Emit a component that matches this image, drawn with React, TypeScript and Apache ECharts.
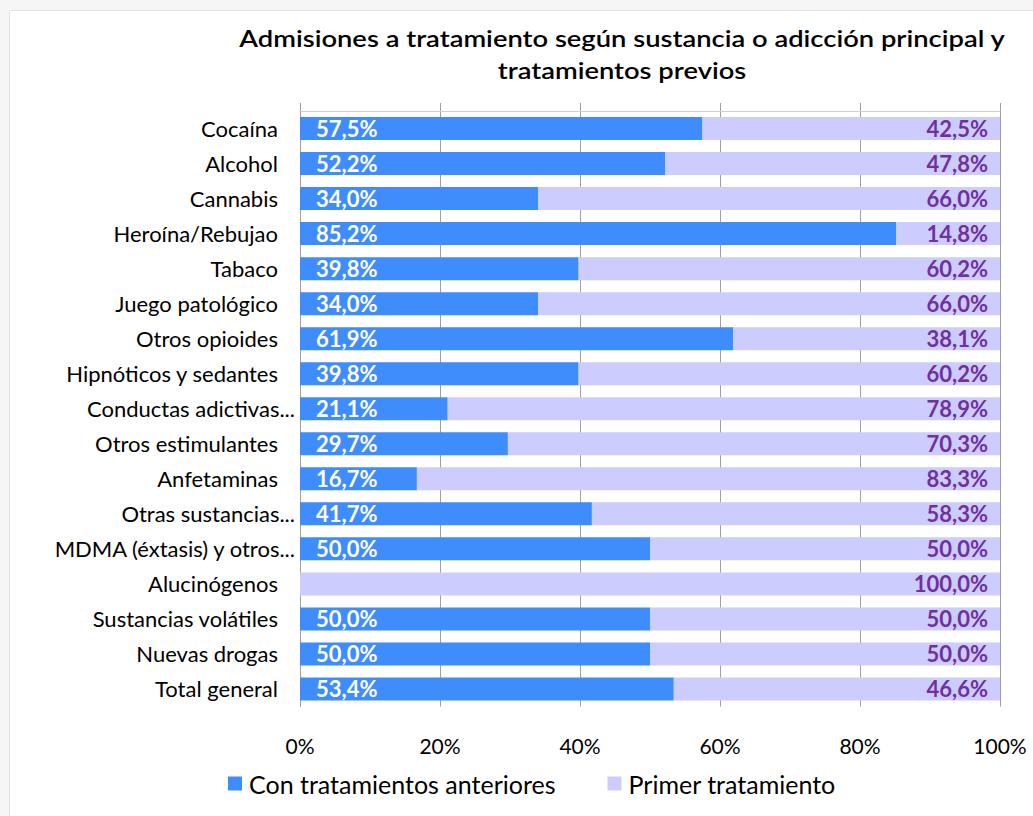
import React, { useEffect, useRef } from "react";
import * as echarts from "echarts";

const categories = [
  "Cocaína",
  "Alcohol",
  "Cannabis",
  "Heroína/Rebujao",
  "Tabaco",
  "Juego patológico",
  "Otros opioides",
  "Hipnóticos y sedantes",
  "Conductas adictivas...",
  "Otros estimulantes",
  "Anfetaminas",
  "Otras sustancias...",
  "MDMA (éxtasis) y otros...",
  "Alucinógenos",
  "Sustancias volátiles",
  "Nuevas drogas",
  "Total general",
];

const conTratamientos = [57.5, 52.2, 34.0, 85.2, 39.8, 34.0, 61.9, 39.8, 21.1, 29.7, 16.7, 41.7, 50.0, 0, 50.0, 50.0, 53.4];
const primerTratamiento = [42.5, 47.8, 66.0, 14.8, 60.2, 66.0, 38.1, 60.2, 78.9, 70.3, 83.3, 58.3, 50.0, 100.0, 50.0, 50.0, 46.6];

const seriesNames = ["Con tratamientos anteriores", "Primer tratamiento"];
const titleText = "Admisiones a tratamiento según sustancia o adicción principal y\ntratamientos previos";

const FONT = "Lato, 'Noto Sans', sans-serif";

const fmt = (v: number) => (v === 0 ? "" : v.toFixed(1).replace(".", ",") + "%");

export default function App() {
  const ref = useRef<HTMLDivElement>(null);
  useEffect(() => {
    if (!ref.current) return;
    const chart = echarts.init(ref.current, undefined, { renderer: "svg" });
    chart.setOption({
      animation: false,
      backgroundColor: "#f6f6f6",
      textStyle: { fontFamily: FONT },
      graphic: [
        {
          type: "rect",
          z: -10,
          silent: true,
          shape: { x: 9.5, y: 10.5, width: 1040, height: 820 },
          style: { fill: "#ffffff", stroke: "#e2e2e2", lineWidth: 1 },
        },
        {
          type: "text",
          x: 622,
          y: 22,
          scaleX: 1.19,
          style: {
            text: titleText,
            x: 0,
            y: 0,
            textAlign: "center",
            textVerticalAlign: "top",
            fontFamily: FONT,
            fontWeight: 600,
            fontSize: 23,
            lineHeight: 32,
            fill: "#000000",
          },
        },
      ],
      legend: {
        left: 228,
        top: 771,
        padding: 0,
        itemWidth: 14,
        itemHeight: 14,
        itemGap: 52,
        icon: "rect",
        textStyle: { fontFamily: FONT, fontSize: 25, color: "#000", padding: [0, 0, 0, 2] },
        data: seriesNames,
      },
      grid: { left: 300, right: 33, top: 111, bottom: 109.5, containLabel: false },
      xAxis: [
        {
          type: "value",
          min: 0,
          max: 100,
          interval: 20,
          position: "bottom",
          axisLine: { show: false },
          axisTick: { show: false },
          splitLine: { show: true, lineStyle: { color: "#a0a0a0", width: 1 } },
          axisLabel: {
            formatter: (v: number) => v + "%",
            fontFamily: FONT,
            fontSize: 21,
            color: "#000",
            margin: 28,
          },
        },
        {
          type: "value",
          min: 0,
          max: 100,
          interval: 20,
          position: "top",
          axisLine: { show: true, lineStyle: { color: "#cfcfcf" } },
          axisTick: { show: true, length: 8, inside: false, lineStyle: { color: "#a0a0a0" } },
          splitLine: { show: false },
          axisLabel: { show: false },
        },
      ],
      yAxis: {
        type: "category",
        inverse: true,
        data: categories,
        axisLine: { show: true, lineStyle: { color: "#a0a0a0" } },
        axisTick: { show: false },
        axisLabel: {
          fontFamily: FONT,
          fontSize: 22,
          color: "#000",
          margin: 5,
          formatter: (v: string) => (v.endsWith("...") ? v : "{n|" + v + "}"),
          rich: {
            n: { fontFamily: FONT, fontSize: 22, color: "#000", padding: [0, 17, 0, 0] },
          },
        },
      },
      series: [
        {
          name: seriesNames[0],
          type: "bar",
          stack: "total",
          barWidth: 23,
          data: conTratamientos,
          itemStyle: { color: "#3f8dfd" },
          label: {
            show: true,
            position: "insideLeft",
            distance: 16,
            color: "#ffffff",
            fontFamily: FONT,
            fontWeight: "bold",
            fontSize: 22,
            formatter: (p: any) => fmt(p.value),
          },
        },
        {
          name: seriesNames[1],
          type: "bar",
          stack: "total",
          barWidth: 23,
          data: primerTratamiento,
          itemStyle: { color: "#ccccff" },
          label: {
            show: true,
            position: "insideRight",
            distance: 12,
            color: "#7030a0",
            fontFamily: FONT,
            fontWeight: "bold",
            fontSize: 22,
            formatter: (p: any) => fmt(p.value),
          },
        },
      ],
    });
    return () => chart.dispose();
  }, []);
  return <div ref={ref} style={{ position: "absolute", left: 0, top: 0, width: 1033, height: 816 }} />;
}
